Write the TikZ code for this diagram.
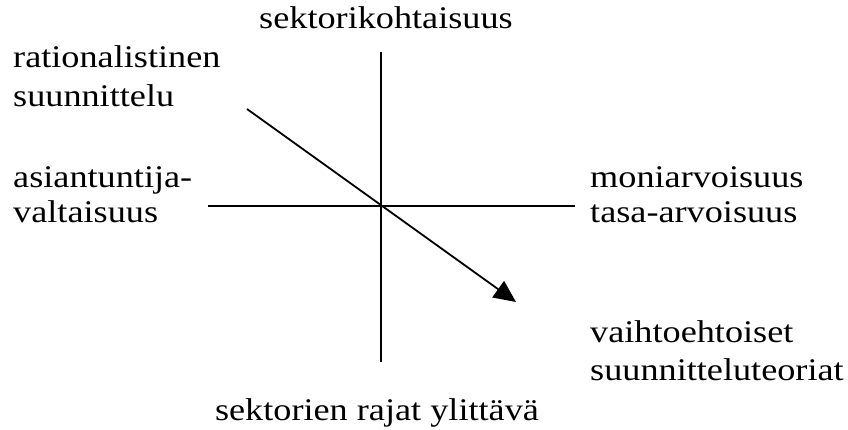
\documentclass[tikz,border=0pt]{standalone}
\usepackage{fontspec}
\setmainfont[FakeStretch=1.15]{Liberation Serif}
\usetikzlibrary{arrows.meta}
\begin{document}
\begin{tikzpicture}[x=1pt,y=1pt,
  lbl/.style={inner sep=0pt, font=\fontsize{31.5}{38}\selectfont},
  axis/.style={line width=1.8pt, line cap=butt},
  trend/.style={line width=1.8pt, -{Triangle[length=22pt,width=20pt]}}]
\useasboundingbox (0,0) rectangle (848,429);
% axes end points
\coordinate (top) at (381,377);
\coordinate (bot) at (381,67);
\coordinate (lft) at (208,223);
\coordinate (rgt) at (575,223);
\coordinate (o) at (381,223);
\coordinate (s) at (247,320);
\coordinate (e) at (516,127);
\draw[axis] (top) -- (bot);
\draw[axis] (lft) -- (rgt);
\draw[trend] (s) -- (e);
% labels
\node[lbl, anchor=base] (n) at (386,400) {sektorikohtaisuus};
\node[lbl, anchor=base] (sth) at (377,9) {sektorien rajat ylittävä};
\node[lbl, anchor=base west] (r1) at (13,361) {rationalistinen};
\node[lbl, anchor=base west] (r2) at (13,322) {suunnittelu};
\node[lbl, anchor=base west] (a1) at (13,242) {asiantuntija-};
\node[lbl, anchor=base west] (a2) at (13,207) {valtaisuus};
\node[lbl, anchor=base west] (m1) at (590,242) {moniarvoisuus};
\node[lbl, anchor=base west] (m2) at (590,207) {tasa-arvoisuus};
\node[lbl, anchor=base west] (v1) at (590,87) {vaihtoehtoiset};
\node[lbl, anchor=base west] (v2) at (590,49) {suunnitteluteoriat};
\end{tikzpicture}
\end{document}
